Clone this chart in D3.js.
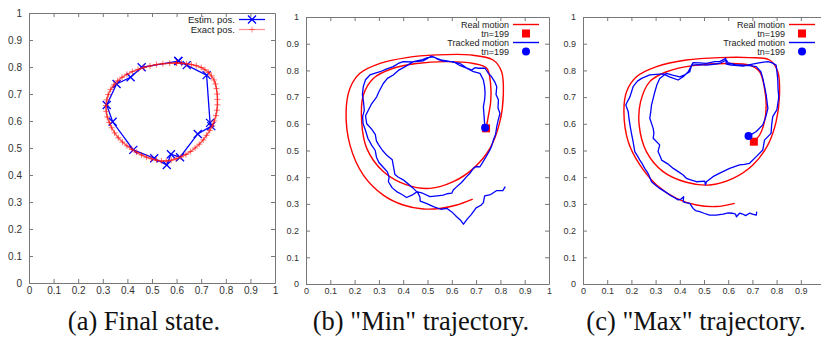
<!DOCTYPE html>
<html>
<head>
<meta charset="utf-8">
<script src="https://cdn.jsdelivr.net/npm/d3@7"></script>
<style>
  body { margin: 0; background: #fff; }
  text { font-family: "Liberation Sans", Arial, sans-serif; }
</style>
</head>
<body>
<div id="main"></div>
<script>
// tick values shared by every axis
const ticks = [0, 0.1, 0.2, 0.3, 0.4, 0.5, 0.6, 0.7, 0.8, 0.9, 1];
const captions = ['(a) Final state.', '(b) "Min" trajectory.', '(c) "Max" trajectory.'];

// (a) estimated positions (x, y)
const estimPos = [
  [0.607, 0.822], [0.641, 0.807], [0.722, 0.770], [0.736, 0.593], [0.741, 0.581],
  [0.686, 0.552], [0.614, 0.466], [0.577, 0.477], [0.560, 0.437], [0.509, 0.462],
  [0.424, 0.493], [0.340, 0.597], [0.316, 0.659], [0.356, 0.737], [0.413, 0.762],
  [0.458, 0.799], [0.607, 0.822]
];

// (a) exact positions
const exactPos = [
  [0.600, 0.815], [0.620, 0.814], [0.640, 0.812], [0.660, 0.809], [0.680, 0.805],
  [0.700, 0.798], [0.715, 0.790], [0.730, 0.780], [0.742, 0.767], [0.752, 0.752],
  [0.758, 0.737], [0.762, 0.720], [0.765, 0.700], [0.766, 0.680], [0.766, 0.660],
  [0.764, 0.640], [0.760, 0.620], [0.753, 0.600], [0.745, 0.582], [0.735, 0.565],
  [0.722, 0.547], [0.708, 0.530], [0.692, 0.514], [0.675, 0.500], [0.657, 0.487],
  [0.638, 0.476], [0.618, 0.467], [0.598, 0.460], [0.578, 0.455], [0.558, 0.452],
  [0.538, 0.452], [0.518, 0.455], [0.498, 0.460], [0.478, 0.466], [0.458, 0.474],
  [0.438, 0.484], [0.418, 0.495], [0.398, 0.508], [0.380, 0.522], [0.363, 0.538],
  [0.348, 0.556], [0.336, 0.575], [0.326, 0.595], [0.318, 0.615], [0.314, 0.636],
  [0.313, 0.657], [0.316, 0.678], [0.322, 0.698], [0.332, 0.717], [0.345, 0.734],
  [0.360, 0.749], [0.378, 0.762], [0.398, 0.773], [0.420, 0.783], [0.443, 0.791],
  [0.467, 0.798], [0.492, 0.804], [0.518, 0.809], [0.544, 0.812], [0.572, 0.814],
  [0.600, 0.815]
];

// (b) real motion
const realMin = [
  [0.686, 0.318], [0.620, 0.296], [0.551, 0.283], [0.483, 0.281], [0.400, 0.296],
  [0.318, 0.333], [0.236, 0.408], [0.181, 0.520], [0.165, 0.645], [0.181, 0.733],
  [0.222, 0.789], [0.305, 0.826], [0.414, 0.848], [0.538, 0.858], [0.675, 0.858],
  [0.770, 0.839], [0.805, 0.795], [0.812, 0.708], [0.798, 0.608], [0.757, 0.508],
  [0.689, 0.433], [0.606, 0.383], [0.510, 0.358], [0.414, 0.371], [0.318, 0.421],
  [0.250, 0.508], [0.229, 0.608], [0.236, 0.708], [0.277, 0.770], [0.359, 0.808],
  [0.455, 0.826], [0.579, 0.833], [0.689, 0.826], [0.744, 0.808], [0.760, 0.745],
  [0.760, 0.683], [0.750, 0.627], [0.741, 0.583]
];

// (b) tracked motion
const trackMin = [
  [0.820, 0.365], [0.810, 0.350], [0.785, 0.350], [0.760, 0.335], [0.735, 0.330],
  [0.730, 0.305], [0.720, 0.295], [0.700, 0.285], [0.680, 0.260], [0.665, 0.245],
  [0.648, 0.224], [0.635, 0.240], [0.620, 0.252], [0.600, 0.270], [0.580, 0.283],
  [0.555, 0.280], [0.524, 0.290], [0.500, 0.300], [0.470, 0.310], [0.469, 0.325],
  [0.458, 0.346], [0.440, 0.335], [0.414, 0.324], [0.395, 0.335], [0.373, 0.346],
  [0.355, 0.360], [0.339, 0.383], [0.342, 0.400], [0.335, 0.420], [0.315, 0.440],
  [0.300, 0.455], [0.290, 0.475], [0.285, 0.500], [0.270, 0.520], [0.255, 0.545],
  [0.245, 0.575], [0.235, 0.600], [0.233, 0.627], [0.240, 0.650], [0.237, 0.680],
  [0.232, 0.710], [0.236, 0.740], [0.245, 0.765], [0.263, 0.783], [0.285, 0.790],
  [0.305, 0.795], [0.330, 0.805], [0.359, 0.814], [0.380, 0.826], [0.400, 0.833],
  [0.440, 0.832], [0.483, 0.836], [0.500, 0.845], [0.517, 0.854], [0.538, 0.845],
  [0.560, 0.838], [0.579, 0.836], [0.610, 0.830], [0.634, 0.826], [0.660, 0.810],
  [0.682, 0.801], [0.695, 0.810], [0.709, 0.808], [0.737, 0.808], [0.750, 0.790],
  [0.764, 0.776], [0.778, 0.755], [0.785, 0.739], [0.782, 0.710], [0.792, 0.689],
  [0.790, 0.660], [0.798, 0.639], [0.790, 0.610], [0.785, 0.589], [0.780, 0.560],
  [0.771, 0.539], [0.765, 0.520], [0.757, 0.502], [0.740, 0.475], [0.716, 0.439],
  [0.700, 0.440], [0.689, 0.433], [0.675, 0.415], [0.661, 0.402], [0.640, 0.380],
  [0.615, 0.360], [0.606, 0.352], [0.600, 0.340], [0.580, 0.338], [0.565, 0.333],
  [0.540, 0.330], [0.510, 0.327], [0.480, 0.340], [0.455, 0.346], [0.440, 0.360],
  [0.420, 0.375], [0.400, 0.390], [0.380, 0.400], [0.366, 0.410], [0.360, 0.440],
  [0.355, 0.465], [0.335, 0.480], [0.315, 0.500], [0.300, 0.520], [0.290, 0.535],
  [0.285, 0.560], [0.270, 0.580], [0.250, 0.600], [0.245, 0.630], [0.257, 0.652],
  [0.270, 0.675], [0.291, 0.701], [0.300, 0.720], [0.318, 0.751], [0.335, 0.770],
  [0.359, 0.783], [0.380, 0.800], [0.410, 0.815], [0.442, 0.833], [0.480, 0.840],
  [0.500, 0.848], [0.524, 0.851], [0.545, 0.840], [0.565, 0.835], [0.606, 0.833],
  [0.630, 0.820], [0.661, 0.808], [0.689, 0.795], [0.716, 0.789], [0.730, 0.764],
  [0.735, 0.740], [0.737, 0.714], [0.735, 0.690], [0.730, 0.664], [0.733, 0.627],
  [0.735, 0.600], [0.737, 0.585]
];

// (c) real motion
const realMax = [
  [0.627, 0.302], [0.551, 0.290], [0.469, 0.296], [0.386, 0.321], [0.304, 0.371],
  [0.235, 0.446], [0.187, 0.533], [0.169, 0.645], [0.180, 0.720], [0.221, 0.776],
  [0.304, 0.814], [0.427, 0.839], [0.565, 0.848], [0.688, 0.848], [0.771, 0.839],
  [0.805, 0.795], [0.812, 0.708], [0.798, 0.608], [0.764, 0.521], [0.702, 0.446],
  [0.620, 0.396], [0.523, 0.371], [0.427, 0.381], [0.331, 0.421], [0.262, 0.496],
  [0.232, 0.596], [0.238, 0.683], [0.276, 0.758], [0.345, 0.795], [0.455, 0.818],
  [0.592, 0.826], [0.688, 0.820], [0.730, 0.795], [0.750, 0.733], [0.757, 0.670],
  [0.750, 0.608], [0.730, 0.558], [0.706, 0.533]
];

// (c) tracked motion
const trackMax = [
  [0.718, 0.271], [0.716, 0.258], [0.700, 0.262], [0.688, 0.265], [0.672, 0.256],
  [0.660, 0.262], [0.647, 0.265], [0.634, 0.252], [0.630, 0.262], [0.617, 0.265],
  [0.600, 0.266], [0.579, 0.262], [0.550, 0.258], [0.523, 0.258], [0.500, 0.265],
  [0.482, 0.271], [0.465, 0.275], [0.455, 0.283], [0.441, 0.302], [0.425, 0.305],
  [0.414, 0.308], [0.416, 0.327], [0.405, 0.318], [0.393, 0.315], [0.375, 0.325],
  [0.359, 0.333], [0.340, 0.345], [0.317, 0.358], [0.300, 0.370], [0.283, 0.383],
  [0.272, 0.408], [0.265, 0.420], [0.255, 0.433], [0.245, 0.450], [0.235, 0.464],
  [0.225, 0.480], [0.214, 0.496], [0.207, 0.533], [0.200, 0.565], [0.194, 0.596],
  [0.190, 0.620], [0.187, 0.645], [0.177, 0.670], [0.180, 0.677], [0.194, 0.701],
  [0.207, 0.739], [0.225, 0.760], [0.242, 0.770], [0.276, 0.783], [0.331, 0.787],
  [0.360, 0.775], [0.393, 0.764], [0.414, 0.776], [0.435, 0.795], [0.449, 0.820],
  [0.455, 0.829], [0.480, 0.828], [0.510, 0.826], [0.544, 0.833], [0.565, 0.833],
  [0.590, 0.845], [0.592, 0.824], [0.613, 0.820], [0.640, 0.818], [0.661, 0.816],
  [0.690, 0.822], [0.716, 0.826], [0.740, 0.830], [0.764, 0.833], [0.782, 0.828],
  [0.798, 0.820], [0.802, 0.790], [0.805, 0.764], [0.806, 0.730], [0.809, 0.701],
  [0.805, 0.675], [0.801, 0.652], [0.784, 0.627], [0.780, 0.600], [0.777, 0.564],
  [0.750, 0.539], [0.743, 0.502], [0.716, 0.477], [0.688, 0.452], [0.667, 0.448],
  [0.647, 0.446], [0.606, 0.433], [0.565, 0.415], [0.537, 0.402], [0.510, 0.383],
  [0.506, 0.371], [0.503, 0.385], [0.469, 0.383], [0.445, 0.390], [0.427, 0.396],
  [0.414, 0.408], [0.395, 0.420], [0.373, 0.433], [0.350, 0.450], [0.325, 0.464],
  [0.318, 0.480], [0.310, 0.496], [0.317, 0.521], [0.290, 0.546], [0.293, 0.565],
  [0.290, 0.583], [0.276, 0.621], [0.280, 0.645], [0.283, 0.670], [0.290, 0.695],
  [0.297, 0.720], [0.305, 0.745], [0.317, 0.770], [0.345, 0.789], [0.370, 0.782],
  [0.400, 0.776], [0.420, 0.783], [0.441, 0.795], [0.449, 0.820], [0.480, 0.822],
  [0.510, 0.820], [0.540, 0.823], [0.565, 0.826], [0.592, 0.839], [0.600, 0.828],
  [0.630, 0.822], [0.661, 0.820], [0.690, 0.818], [0.716, 0.814], [0.735, 0.795],
  [0.743, 0.770], [0.750, 0.740], [0.757, 0.708], [0.764, 0.658], [0.755, 0.625],
  [0.743, 0.596], [0.716, 0.571], [0.684, 0.554]
];

const width = 821, height = 339;
const svg = d3.select('#main').append('svg')
  .attr('width', width)
  .attr('height', height);

// panel frames in pixels
const panels = [
  { left: 29, right: 275, bottom: 283, top: 13, tickFont: 10, cx: 144 },
  { left: 306, right: 549, bottom: 284, top: 17, tickFont: 9, cx: 421 },
  { left: 583, right: 825, bottom: 284, top: 17, tickFont: 9, cx: 696 }
];

function frame(p, i) {
  const x = d3.scaleLinear().domain([0, 1]).range([p.left, p.right]);
  const y = d3.scaleLinear().domain([0, 1]).range([p.bottom, p.top]);
  const g = svg.append('g');
  const fmt = d => d3.format('')(d);
  // the last panel runs past the right edge of the picture, so its "1" is not shown
  const xLabels = ticks.filter(t => x(t) < width);

  const styleAxis = sel => {
    sel.selectAll('path.domain').attr('stroke', '#777').attr('stroke-width', 1);
    sel.selectAll('.tick line').attr('stroke', '#777');
    sel.selectAll('.tick text').attr('fill', '#333')
      .style('font-size', p.tickFont + 'px')
      .style('font-family', '"Liberation Sans", Arial, sans-serif');
  };

  g.append('g').attr('transform', `translate(0,${p.bottom})`)
    .call(d3.axisBottom(x).tickValues(xLabels).tickFormat(fmt).tickSize(-4).tickSizeOuter(0).tickPadding(4))
    .call(styleAxis);
  g.append('g').attr('transform', `translate(0,${p.top})`)
    .call(d3.axisTop(x).tickValues(ticks.slice(1, -1)).tickFormat('').tickSize(-4).tickSizeOuter(0))
    .call(styleAxis);
  g.append('g').attr('transform', `translate(${p.left},0)`)
    .call(d3.axisLeft(y).tickValues(ticks).tickFormat(fmt).tickSize(-4).tickSizeOuter(0).tickPadding(7))
    .call(styleAxis);
  g.append('g').attr('transform', `translate(${p.right},0)`)
    .call(d3.axisRight(y).tickValues(ticks.slice(1, -1)).tickFormat('').tickSize(-4).tickSizeOuter(0))
    .call(styleAxis);

  svg.append('text')
    .attr('x', p.cx).attr('y', 330)
    .attr('text-anchor', 'middle')
    .style('font-family', '"Liberation Serif", "Times New Roman", serif')
    .style('font-size', '26.5px')
    .attr('fill', '#111')
    .text(captions[i]);

  return { x, y, g };
}

const crossPath = 'M-4,-4L4,4M-4,4L4,-4';
const plusPath = 'M-3,0H3M0,-3V3';

// ---------- (a) final state
{
  const { x, y, g } = frame(panels[0], 0);
  const line = d3.line().x(d => x(d[0])).y(d => y(d[1]));

  g.append('path').datum(estimPos)
    .attr('d', line).attr('fill', 'none').attr('stroke', '#0000ff').attr('stroke-width', 1.3);
  g.selectAll('.cross').data(estimPos).enter().append('path')
    .attr('transform', d => `translate(${x(d[0])},${y(d[1])})`)
    .attr('d', crossPath).attr('stroke', '#0000ff').attr('stroke-width', 1.3);

  g.append('path').datum(exactPos)
    .attr('d', line).attr('fill', 'none').attr('stroke', '#ff1010').attr('stroke-opacity', 0.7).attr('stroke-width', 1.5);
  g.selectAll('.plus').data(exactPos).enter().append('path')
    .attr('transform', d => `translate(${x(d[0])},${y(d[1])})`)
    .attr('d', plusPath).attr('stroke', '#ff1010').attr('stroke-opacity', 0.6).attr('stroke-width', 1);

  // legend
  const lg = svg.append('g').style('font-size', '9.5px');
  lg.append('text').attr('x', 235).attr('y', 19.5).attr('dy', '0.35em').attr('text-anchor', 'end').attr('fill', '#222').text('Estim. pos.');
  lg.append('line').attr('x1', 239).attr('x2', 265).attr('y1', 19.5).attr('y2', 19.5).attr('stroke', '#0000ff').attr('stroke-width', 1.3);
  lg.append('path').attr('transform', 'translate(252,19.5)').attr('d', crossPath).attr('stroke', '#0000ff').attr('stroke-width', 1.3);
  lg.append('text').attr('x', 235).attr('y', 29.5).attr('dy', '0.35em').attr('text-anchor', 'end').attr('fill', '#222').text('Exact pos.');
  lg.append('line').attr('x1', 239).attr('x2', 265).attr('y1', 29.5).attr('y2', 29.5).attr('stroke', '#ff2020').attr('stroke-opacity', 0.5).attr('stroke-width', 1.2);
  lg.append('path').attr('transform', 'translate(252,29.5)').attr('d', plusPath).attr('stroke', '#ff2020').attr('stroke-opacity', 0.5);
}

// ---------- (b) and (c) trajectories
function trajectory(p, i, real, tracked, legendRight) {
  const { x, y, g } = frame(p, i);
  const line = d3.line().x(d => x(d[0])).y(d => y(d[1]));
  const lastReal = real[real.length - 1];
  const lastTrack = tracked[tracked.length - 1];

  g.append('path').datum(real)
    .attr('d', line.curve(d3.curveCatmullRom)).attr('fill', 'none').attr('stroke', '#ff0000').attr('stroke-width', 1.4);
  g.append('rect')
    .attr('x', x(lastReal[0]) - 4).attr('y', y(lastReal[1]) - 4)
    .attr('width', 8).attr('height', 8).attr('fill', '#ff0000');
  g.append('path').datum(tracked)
    .attr('d', d3.line().x(d => x(d[0])).y(d => y(d[1]))).attr('fill', 'none')
    .attr('stroke', '#0000ff').attr('stroke-width', 1.3).attr('stroke-linejoin', 'round');
  g.append('circle')
    .attr('cx', x(lastTrack[0])).attr('cy', y(lastTrack[1])).attr('r', 4).attr('fill', '#0000ff');

  // legend
  const lg = svg.append('g').style('font-size', '9px');
  const tx = legendRight, lx1 = tx + 4, lx2 = tx + 30, mx = tx + 17;
  const rows = [
    { label: 'Real motion', y: 24.5 },
    { label: 'tn=199', y: 33.5 },
    { label: 'Tracked motion', y: 42.5 },
    { label: 'tn=199', y: 51.5 }
  ];
  lg.selectAll('text').data(rows).enter().append('text')
    .attr('x', tx).attr('y', d => d.y).attr('dy', '0.35em')
    .attr('text-anchor', 'end').attr('fill', '#222').text(d => d.label);
  lg.append('line').attr('x1', lx1).attr('x2', lx2).attr('y1', rows[0].y).attr('y2', rows[0].y).attr('stroke', '#ff0000').attr('stroke-width', 1.4);
  lg.append('rect').attr('x', mx - 4).attr('y', rows[1].y - 4).attr('width', 8).attr('height', 8).attr('fill', '#ff0000');
  lg.append('line').attr('x1', lx1).attr('x2', lx2).attr('y1', rows[2].y).attr('y2', rows[2].y).attr('stroke', '#0000ff').attr('stroke-width', 1.4);
  lg.append('circle').attr('cx', mx).attr('cy', rows[3].y).attr('r', 4).attr('fill', '#0000ff');
}

trajectory(panels[1], 1, realMin, trackMin, 509);
trajectory(panels[2], 2, realMax, trackMax, 785);
</script>
</body>
</html>
